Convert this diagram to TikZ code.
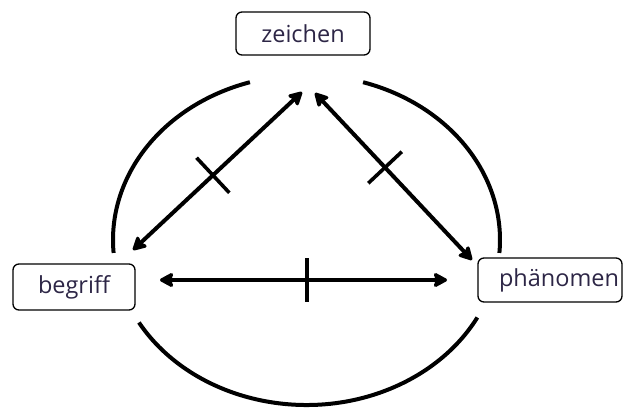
\documentclass[tikz,border=0pt]{standalone}
\usepackage{fontspec}
\setmainfont{Open Sans}
\usetikzlibrary{arrows.meta,calc}
\definecolor{txt}{RGB}{45,38,70}
\tikzset{
  lbox/.style={draw=black, line width=1.3pt, rounded corners=6pt, inner sep=0pt,
    font=\fontsize{23.5}{28}\selectfont, text=txt},
  ring/.style={line width=4pt, line cap=butt},
  rel/.style={line width=4pt, {Stealth[round,length=16pt,width=17pt,inset=3pt]}-{Stealth[round,length=16pt,width=17pt,inset=3pt]}},
  tick/.style={line width=3.6pt}
}
\begin{document}
\begin{tikzpicture}[x=1pt,y=1pt]
\useasboundingbox (0,0) rectangle (625,408);
% labels
\node[lbox, minimum width=134pt, minimum height=43pt] (zeichen) at (303,374.5) {zeichen};
\node[lbox, minimum width=122pt, minimum height=46pt] (begriff) at (74,121) {begriff};
\node[lbox, minimum width=144pt, minimum height=44pt, text width=138pt, align=right, inner xsep=3pt] (phaenomen) at (550,128) {phänomen};
% ellipse arcs
\coordinate (C) at (306.5,168);
\draw[ring] ([shift={(107:193.5pt and 165pt)}]C) arc[start angle=107, end angle=184.5, x radius=193.5pt, y radius=165pt];
\draw[ring] ([shift={(73:193.5pt and 165pt)}]C) arc[start angle=73, end angle=-4.5, x radius=193.5pt, y radius=165pt];
\draw[ring] ([shift={(210:193.5pt and 165pt)}]C) arc[start angle=210, end angle=332, x radius=193.5pt, y radius=165pt];
% connector end points
\coordinate (a1) at (133,158);
\coordinate (a2) at (302,316);
\coordinate (b1) at (315,315);
\coordinate (b2) at (472,148);
\coordinate (h1) at (160,128);
\coordinate (h2) at (447,128);
% relations
\draw[rel] (a1) -- (a2) coordinate[pos=0.473] (m1);
\draw[rel] (b1) -- (b2) coordinate[pos=0.446] (m2);
\draw[rel] (h1) -- (h2) coordinate[pos=0.512] (m3);
% ticks
\draw[tick] ($(m1)!24pt!90:(a2)$) -- ($(m1)!24pt!-90:(a2)$);
\draw[tick] ($(m2)!23pt!90:(b2)$) -- ($(m2)!23pt!-90:(b2)$);
\draw[tick] ($(m3)!22pt!90:(h2)$) -- ($(m3)!22pt!-90:(h2)$);
\end{tikzpicture}
\end{document}
